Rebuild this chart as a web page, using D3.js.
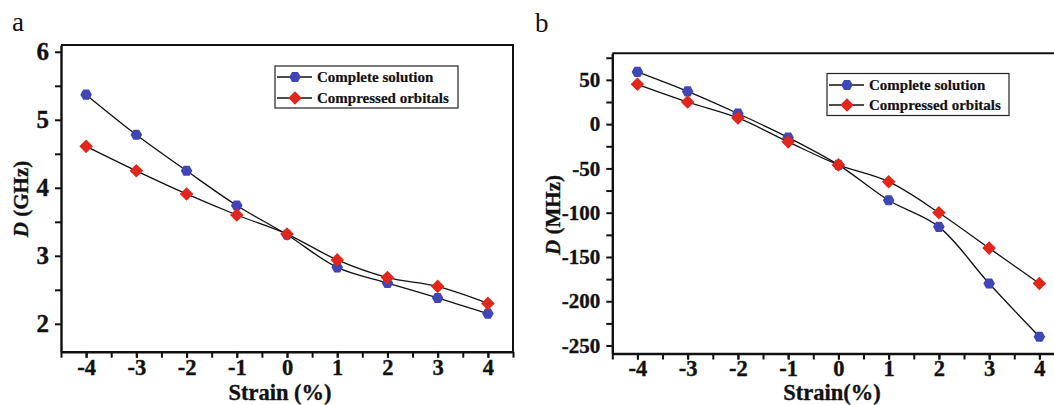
<!DOCTYPE html>
<html>
<head>
<meta charset="utf-8">
<script src="https://cdn.jsdelivr.net/npm/d3@7"></script>
<style>
  html, body { margin: 0; padding: 0; background: #fff; }
  svg { display: block; }
  text { font-family: "Liberation Serif", "Times New Roman", serif; }
</style>
</head>
<body>
<svg id="chart" width="1054" height="405"></svg>
<script>
// ---------- data ----------
const strain = [-4, -3, -2, -1, 0, 1, 2, 3, 4];
const seriesNames = ["Complete solution", "Compressed orbitals"];
const dGHzComplete   = [5.37, 4.78, 4.25, 3.74, 3.31, 2.83, 2.60, 2.38, 2.15];
const dGHzCompressed = [4.61, 4.25, 3.91, 3.60, 3.32, 2.94, 2.68, 2.55, 2.30];
const dMHzComplete   = [59, 37, 12, -15, -46, -86, -116, -180, -240];
const dMHzCompressed = [45, 25, 7, -20, -46, -65, -100, -140, -180];
const xTicks = [-4, -3, -2, -1, 0, 1, 2, 3, 4];
const yTicksA = [2, 3, 4, 5, 6];
const yTicksB = [50, 0, -50, -100, -150, -200, -250];

// ---------- style ----------
const BLUE = "#4047b5";
const RED = "#e1261c";
const svg = d3.select("#chart");
const fmt = d => String(d);   // plain hyphen-minus like the reference

function hexPath(r) {
  const pts = d3.range(6).map(i => {
    const a = Math.PI / 3 * i;
    return [r * Math.cos(a), r * Math.sin(a)];
  });
  return "M" + pts.map(p => p.join(",")).join("L") + "Z";
}
function diamondPath(r) {
  return `M0,${-r}L${r},0L0,${r}L${-r},0Z`;
}

function styleText(sel, size) {
  sel.attr("font-size", size).attr("font-weight", "bold")
    .attr("fill", "#111").attr("stroke", "#111").attr("stroke-width", 0.35)
    .attr("font-family", "Liberation Serif, serif");
}

function drawPanel(cfg) {
  const g = svg.append("g");
  const x = d3.scaleLinear().domain([-4.5, 4.5]).range(cfg.xRange);
  const y = d3.scaleLinear().domain(cfg.yDomain).range(cfg.yRange);
  const [x0, x1] = cfg.xRange;
  const [yb, yt] = cfg.yRange;

  // frame (top and right)
  g.append("path")
    .attr("d", `M${x0},${yt}H${x1}V${yb}`)
    .attr("fill", "none").attr("stroke", "#111").attr("stroke-width", 2);

  // minor ticks
  const xMinor = d3.range(-4.5, 4.6, 0.5);
  const xAxisMinor = d3.axisBottom(x).tickValues(xMinor).tickSize(6).tickFormat("");
  const gxm = g.append("g").attr("transform", `translate(0,${yb})`).call(xAxisMinor);
  gxm.select(".domain").remove();
  gxm.selectAll("line").attr("stroke", "#111").attr("stroke-width", 2);

  const yMinor = d3.range(cfg.yMinorStart, cfg.yDomain[1] + 1e-9, cfg.yMinorStep);
  const yAxisMinor = d3.axisLeft(y).tickValues(yMinor).tickSize(6).tickFormat("");
  const gym = g.append("g").attr("transform", `translate(${x0},0)`).call(yAxisMinor);
  gym.select(".domain").remove();
  gym.selectAll("line").attr("stroke", "#111").attr("stroke-width", 2);

  // major axes
  const xAxis = d3.axisBottom(x).tickValues(xTicks).tickFormat(fmt)
    .tickSize(6).tickSizeOuter(0).tickPadding(1);
  const gx = g.append("g").attr("transform", `translate(0,${yb})`).call(xAxis);
  gx.select(".domain").attr("stroke", "#111").attr("stroke-width", 2.4);
  gx.selectAll("line").attr("stroke", "#111").attr("stroke-width", 2);
  styleText(gx.selectAll("text"), cfg.xTickFont);

  const yAxis = d3.axisLeft(y).tickValues(cfg.yTicks).tickFormat(fmt)
    .tickSize(6).tickSizeOuter(0).tickPadding(6);
  const gy = g.append("g").attr("transform", `translate(${x0},0)`).call(yAxis);
  gy.select(".domain").attr("stroke", "#111").attr("stroke-width", 2.4);
  gy.selectAll("line").attr("stroke", "#111").attr("stroke-width", 2);
  styleText(gy.selectAll("text"), cfg.yTickFont);

  // lines
  const line = d3.line().x((d, i) => x(strain[i])).y(d => y(d)).curve(d3.curveCatmullRom.alpha(0.5));
  const plot = g.append("g");
  [cfg.complete, cfg.compressed].forEach(s => {
    plot.append("path").attr("d", line(s)).attr("fill", "none")
      .attr("stroke", "#111").attr("stroke-width", 1.3);
  });
  plot.selectAll(".hex").data(cfg.complete).join("path")
    .attr("transform", (d, i) => `translate(${x(strain[i])},${y(d)})`)
    .attr("d", hexPath(5.8)).attr("fill", BLUE);
  plot.selectAll(".dia").data(cfg.compressed).join("path")
    .attr("transform", (d, i) => `translate(${x(strain[i])},${y(d)})`)
    .attr("d", diamondPath(6.8)).attr("fill", RED);

  // legend
  const L = cfg.legend;
  g.append("rect").attr("x", L.x).attr("y", L.y).attr("width", L.w).attr("height", L.h)
    .attr("fill", "#fff").attr("stroke", "#222").attr("stroke-width", 1.2);
  seriesNames.forEach((name, i) => {
    const ry = L.y + L.rows[i];
    g.append("line").attr("x1", L.x + 2).attr("x2", L.x + 37).attr("y1", ry).attr("y2", ry)
      .attr("stroke", "#111").attr("stroke-width", 1.3);
    g.append("path").attr("transform", `translate(${L.x + 20},${ry})`)
      .attr("d", i === 0 ? hexPath(5.8) : diamondPath(6.8))
      .attr("fill", i === 0 ? BLUE : RED);
    const t = g.append("text").attr("x", L.x + 42).attr("y", ry + 5).text(name);
    styleText(t, 15);
    t.attr("stroke-width", 0.2);
  });

  // axis titles
  const xt = g.append("text").attr("x", cfg.xTitle[0]).attr("y", cfg.xTitle[1])
    .attr("text-anchor", "middle").text(cfg.xTitleText);
  styleText(xt, cfg.xTitleFont);
  const yt2 = g.append("text")
    .attr("transform", `translate(${cfg.yTitle[0]},${cfg.yTitle[1]}) rotate(-90)`)
    .attr("text-anchor", "middle");
  styleText(yt2, 21);
  yt2.append("tspan").attr("font-style", "italic").text("D");
  yt2.append("tspan").text(cfg.yUnit);

  // panel label
  svg.append("text").attr("x", cfg.label[0]).attr("y", cfg.label[1])
    .attr("font-size", 27).attr("fill", "#111").text(cfg.labelText);
}

drawPanel({
  id: "a",
  xRange: [61, 513], yDomain: [1.59, 6.1], yRange: [351.7, 45],
  yTicks: yTicksA, yMinorStart: 2.5, yMinorStep: 1,
  complete: dGHzComplete, compressed: dGHzCompressed,
  xTickFont: 22.5, yTickFont: 25,
  legend: { x: 275, y: 66, w: 183, h: 42, rows: [11, 32] },
  xTitle: [280, 400], xTitleFont: 22.5, xTitleText: "Strain (%)",
  yTitle: [28, 199], yUnit: " (GHz)",
  label: [12, 31], labelText: "a"
});

drawPanel({
  id: "b",
  xRange: [612.3, 1064.5], yDomain: [-259, 80], yRange: [353.5, 53.3],
  yTicks: yTicksB, yMinorStart: -225, yMinorStep: 50,
  complete: dMHzComplete, compressed: dMHzCompressed,
  xTickFont: 22.5, yTickFont: 21,
  legend: { x: 827, y: 73.5, w: 182, h: 42, rows: [11.5, 31.5] },
  xTitle: [832, 400], xTitleFont: 22.5, xTitleText: "Strain(%)",
  yTitle: [560, 215], yUnit: " (MHz)",
  label: [535, 32], labelText: "b"
});
</script>
</body>
</html>
